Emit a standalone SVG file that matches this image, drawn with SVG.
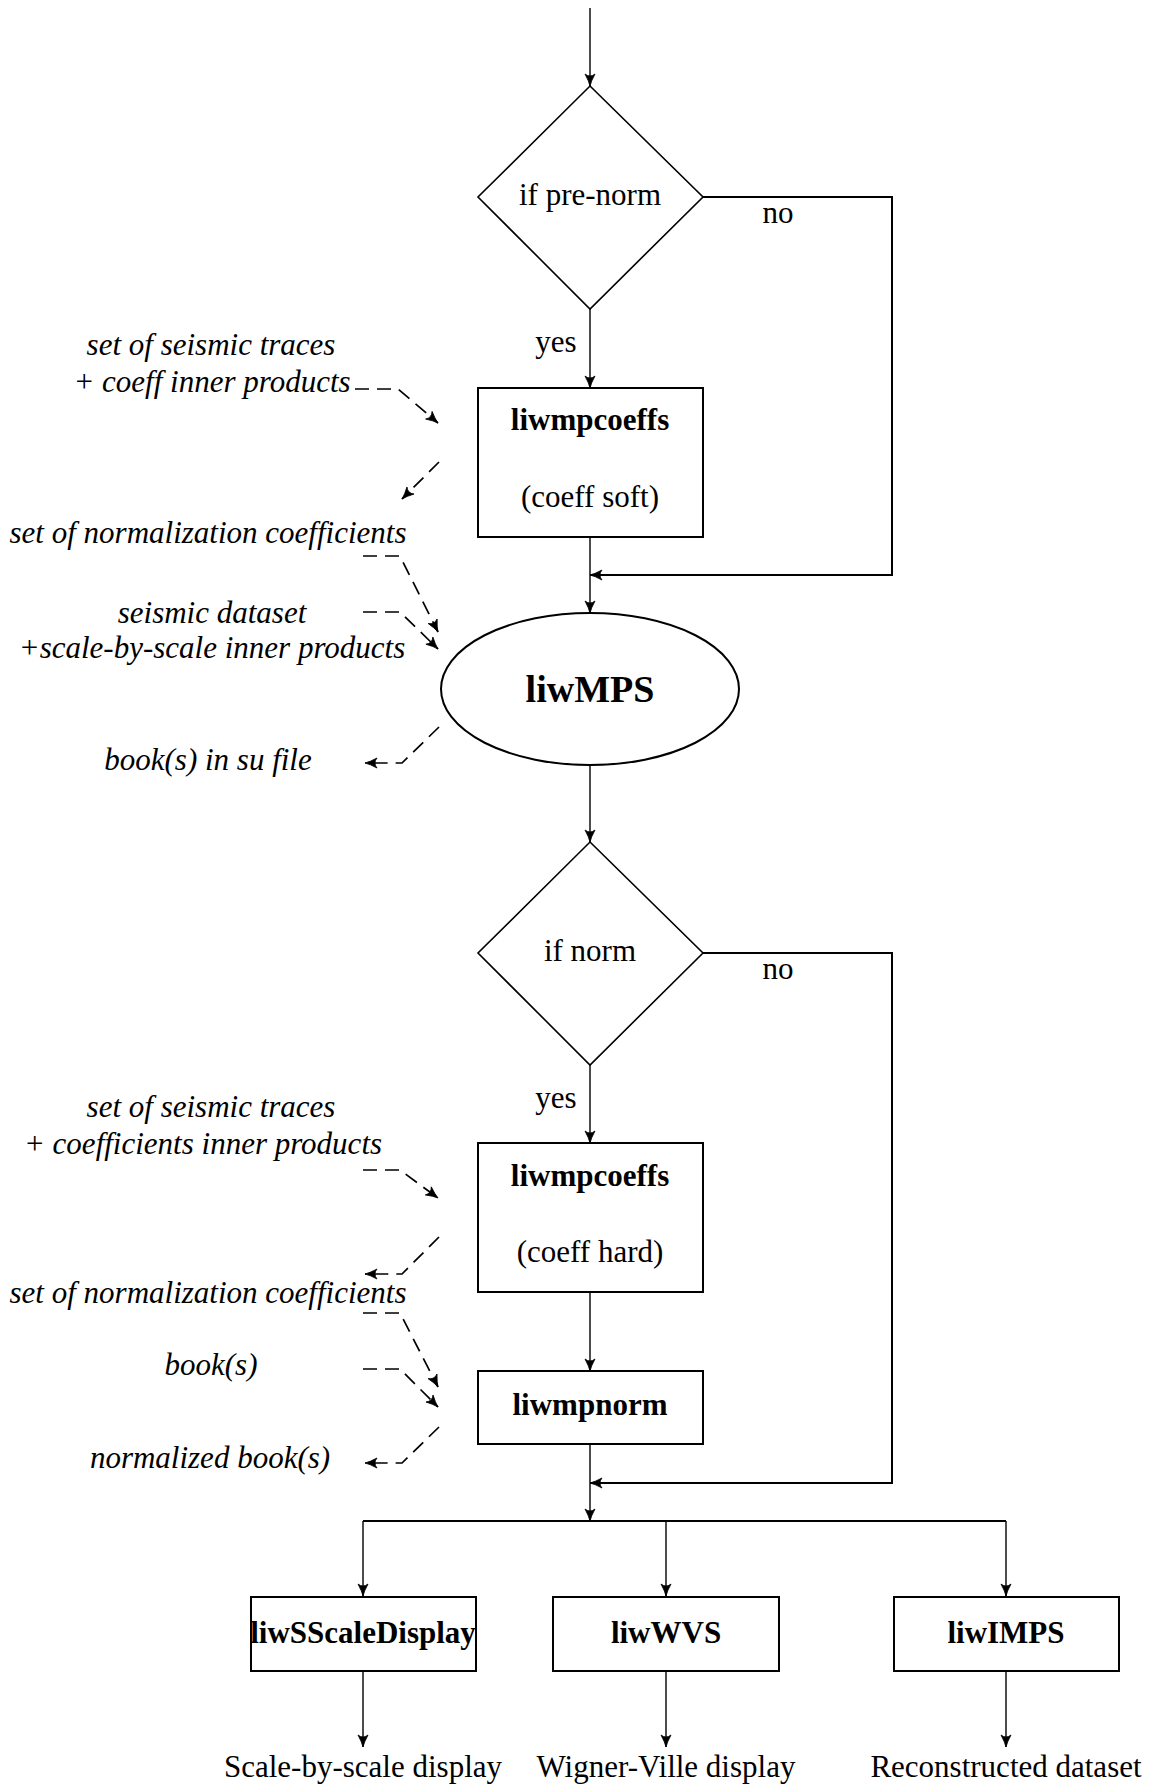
<svg xmlns="http://www.w3.org/2000/svg" width="1167" height="1791" viewBox="0 0 1167 1791">
<style>
text{font-family:"Liberation Serif","Times New Roman",serif;font-size:31px;fill:#000}
.b{font-weight:bold}
.i{font-style:italic}
.c{text-anchor:middle}
.shape{fill:#fff;stroke:#000;stroke-width:2}
.dia{fill:#fff;stroke:#000;stroke-width:1.6}
.ln{fill:none;stroke:#000;stroke-width:1.4}
.thick{fill:none;stroke:#000;stroke-width:2}
.dash{fill:none;stroke:#000;stroke-width:1.7;stroke-dasharray:14 8}
</style>
<defs>
<marker id="ah" markerUnits="userSpaceOnUse" markerWidth="16" markerHeight="14" viewBox="-13 -7 15 14" refX="0" refY="0" orient="auto">
<path d="M-12,-5 Q-5,-1.2 0,0 Q-5,1.2 -12,5 Q-8,0 -12,-5 Z" fill="#000" stroke="#000" stroke-width="0.8" stroke-dasharray="none"/>
</marker>
</defs>
<rect width="1167" height="1791" fill="#fff"/>
<g id="connectors">
<line class="ln" x1="590" y1="8" x2="590" y2="86" marker-end="url(#ah)"/>
<line class="ln" x1="590" y1="309" x2="590" y2="388" marker-end="url(#ah)"/>
<polyline class="thick" points="703,197 892,197 892,575 590,575" marker-end="url(#ah)"/>
<line class="ln" x1="590" y1="537" x2="590" y2="613" marker-end="url(#ah)"/>
<line class="ln" x1="590" y1="765" x2="590" y2="842" marker-end="url(#ah)"/>
<line class="ln" x1="590" y1="1065" x2="590" y2="1143" marker-end="url(#ah)"/>
<polyline class="thick" points="703,953 892,953 892,1483 590,1483" marker-end="url(#ah)"/>
<line class="ln" x1="590" y1="1292" x2="590" y2="1371" marker-end="url(#ah)"/>
<line class="ln" x1="590" y1="1444" x2="590" y2="1521" marker-end="url(#ah)"/>
<line class="thick" x1="363" y1="1521" x2="1006" y2="1521"/>
<line class="ln" x1="363" y1="1521" x2="363" y2="1596" marker-end="url(#ah)"/>
<line class="ln" x1="666" y1="1521" x2="666" y2="1596" marker-end="url(#ah)"/>
<line class="ln" x1="1006" y1="1521" x2="1006" y2="1596" marker-end="url(#ah)"/>
<line class="ln" x1="363" y1="1671" x2="363" y2="1747" marker-end="url(#ah)"/>
<line class="ln" x1="666" y1="1671" x2="666" y2="1747" marker-end="url(#ah)"/>
<line class="ln" x1="1006" y1="1671" x2="1006" y2="1747" marker-end="url(#ah)"/>
<polyline class="dash" points="355,389 398,389 438,423" marker-end="url(#ah)"/>
<polyline class="dash" points="439,462 402,499" marker-end="url(#ah)"/>
<polyline class="dash" points="363,556 400,556 438,632" marker-end="url(#ah)"/>
<polyline class="dash" points="363,612 400,612 438,649" marker-end="url(#ah)"/>
<polyline class="dash" points="439,727 402,763 365,763" marker-end="url(#ah)"/>
<polyline class="dash" points="363,1170 400,1170 438,1198" marker-end="url(#ah)"/>
<polyline class="dash" points="439,1237 402,1274 365,1274" marker-end="url(#ah)"/>
<polyline class="dash" points="363,1313 400,1313 438,1387" marker-end="url(#ah)"/>
<polyline class="dash" points="363,1369 400,1369 438,1407" marker-end="url(#ah)"/>
<polyline class="dash" points="439,1427 402,1463 365,1463" marker-end="url(#ah)"/>
</g>
<g id="labels">
<text x="778" y="223" class="c">no</text>
<text x="556" y="352" class="c">yes</text>
<text x="778" y="979" class="c">no</text>
<text x="556" y="1108" class="c">yes</text>
<text x="211" y="355" class="c i">set of seismic traces</text>
<text x="212" y="392" class="c i">+ coeff inner products</text>
<text x="208" y="543" class="c i">set of normalization coefficients</text>
<text x="212" y="623" class="c i">seismic dataset</text>
<text x="212" y="658" class="c i">+scale-by-scale inner products</text>
<text x="208" y="770" class="c i">book(s) in su file</text>
<text x="211" y="1117" class="c i">set of seismic traces</text>
<text x="203" y="1154" class="c i">+ coefficients inner products</text>
<text x="208" y="1303" class="c i">set of normalization coefficients</text>
<text x="211" y="1375" class="c i">book(s)</text>
<text x="210" y="1468" class="c i">normalized book(s)</text>
<text x="363" y="1777" class="c">Scale-by-scale display</text>
<text x="666" y="1777" class="c">Wigner-Ville display</text>
<text x="1006" y="1777" class="c">Reconstructed dataset</text>
</g>
<g id="d-prenorm">
<polygon class="dia" points="590,86 703,197 590,309 478,197"/>
<text x="590" y="205" class="c">if pre-norm</text>
</g>
<g id="n-coeffs-soft">
<rect class="shape" x="478" y="388" width="225" height="149"/>
<text x="590" y="430" class="c b">liwmpcoeffs</text>
<text x="590" y="507" class="c">(coeff soft)</text>
</g>
<g id="n-liwMPS">
<ellipse class="shape" cx="590" cy="689" rx="149" ry="76"/>
<text x="590" y="702" class="c b" style="font-size:38px">liwMPS</text>
</g>
<g id="d-norm">
<polygon class="dia" points="590,842 703,953 590,1065 478,953"/>
<text x="590" y="961" class="c">if norm</text>
</g>
<g id="n-coeffs-hard">
<rect class="shape" x="478" y="1143" width="225" height="149"/>
<text x="590" y="1186" class="c b">liwmpcoeffs</text>
<text x="590" y="1262" class="c">(coeff hard)</text>
</g>
<g id="n-liwmpnorm">
<rect class="shape" x="478" y="1371" width="225" height="73"/>
<text x="590" y="1415" class="c b">liwmpnorm</text>
</g>
<g id="n-sscale">
<rect class="shape" x="251" y="1597" width="225" height="74"/>
<text x="363" y="1643" class="c b">liwSScaleDisplay</text>
</g>
<g id="n-wvs">
<rect class="shape" x="553" y="1597" width="226" height="74"/>
<text x="666" y="1643" class="c b">liwWVS</text>
</g>
<g id="n-imps">
<rect class="shape" x="894" y="1597" width="225" height="74"/>
<text x="1006" y="1643" class="c b">liwIMPS</text>
</g>
</svg>
